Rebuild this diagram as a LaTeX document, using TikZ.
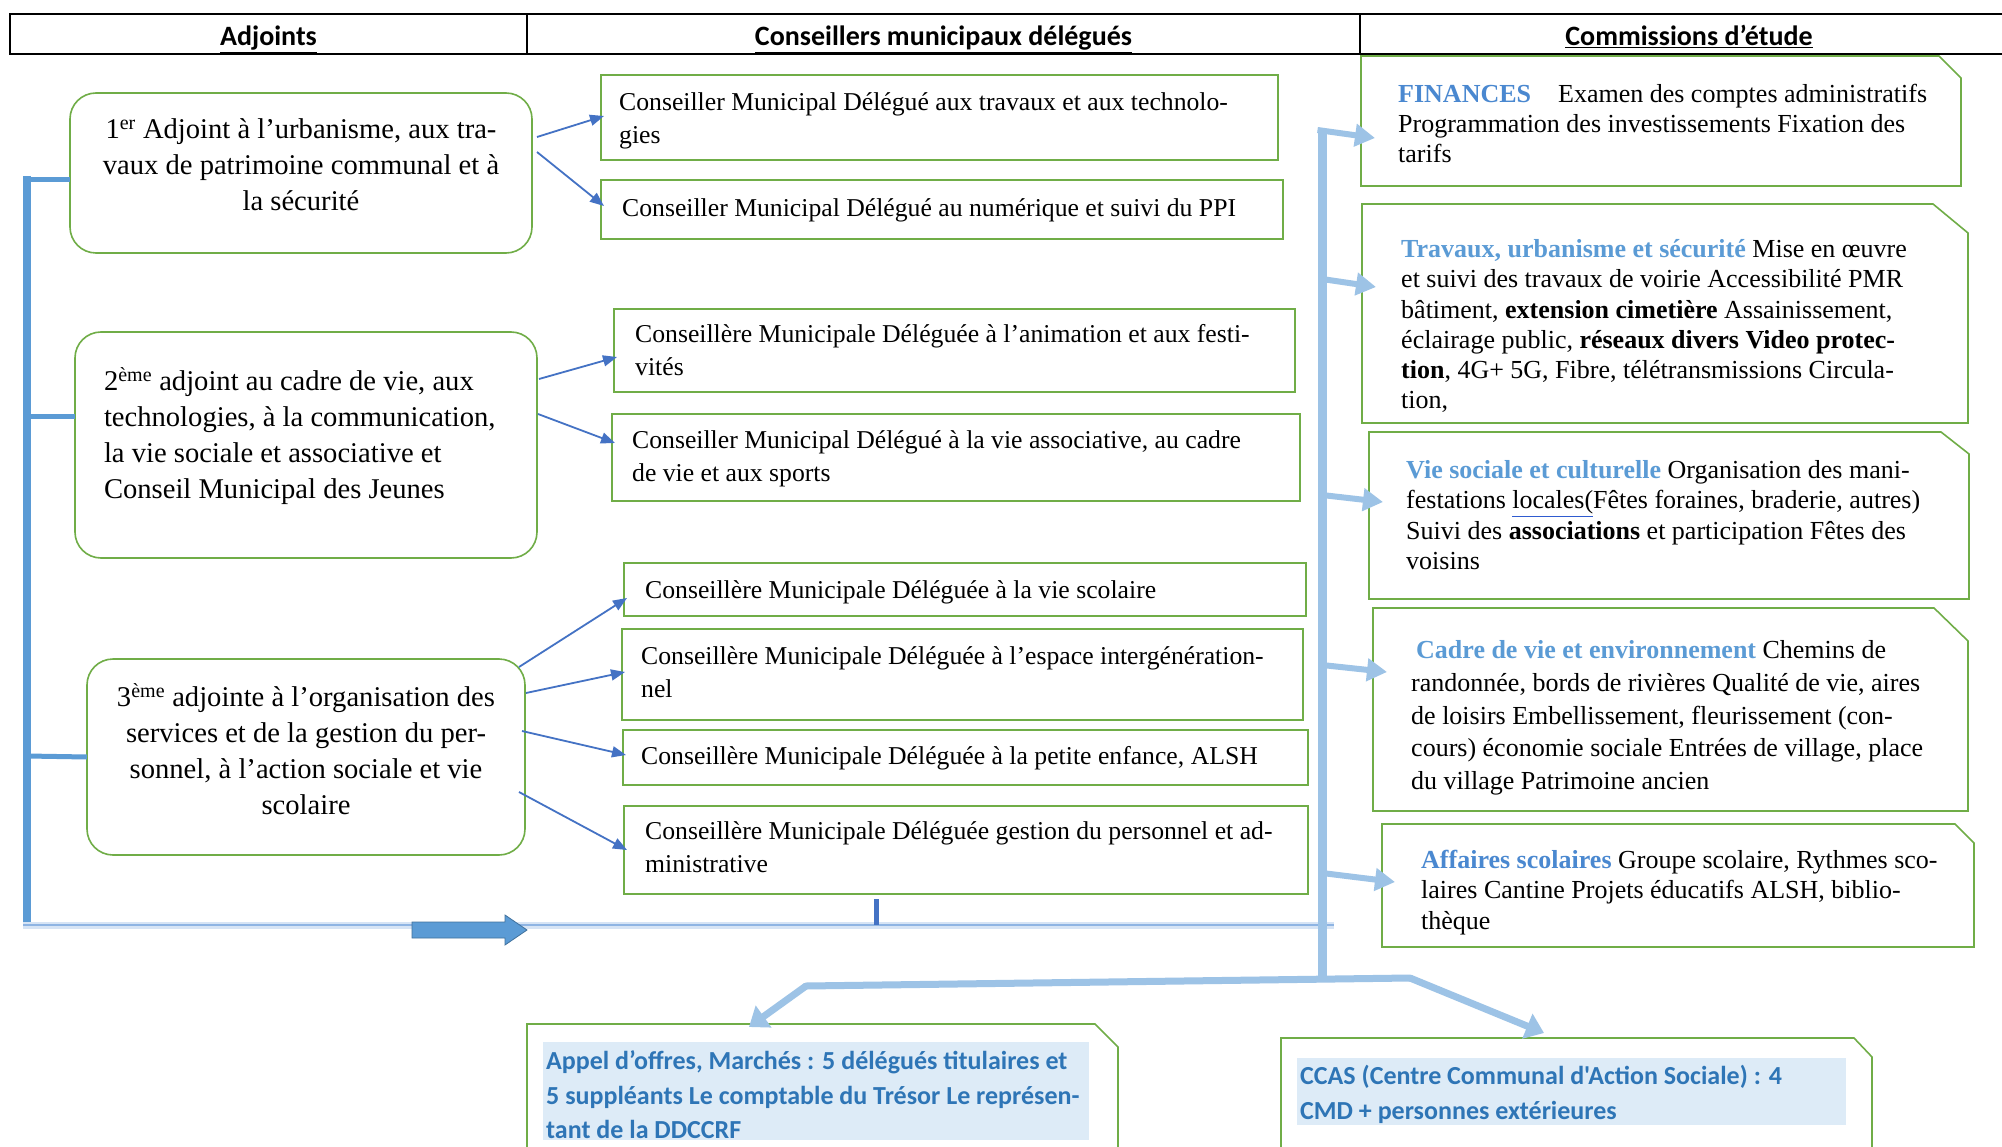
\documentclass[tikz,border=0pt]{standalone}
\usepackage{fontspec}
\setmainfont{Liberation Serif}
\newfontfamily\calib{Carlito}
\usetikzlibrary{arrows.meta}
\definecolor{grn}{HTML}{70AD47}
\definecolor{dblue}{HTML}{4472C4}
\definecolor{mblue}{HTML}{5B9BD5}
\definecolor{lblue}{HTML}{9DC3E6}
\definecolor{hblue}{HTML}{4A88D0}
\definecolor{hlblue}{HTML}{5B9BD5}
\definecolor{tblue}{HTML}{2E75B6}
\definecolor{fblue}{HTML}{DDEBF7}
\definecolor{ulblue}{HTML}{2F5BD0}
\definecolor{glow}{HTML}{D6E4F5}
\definecolor{bline}{HTML}{8EB4E3}
\definecolor{adark}{HTML}{41719C}
\newcommand{\fl}{\rule{0pt}{0.9em}}
\newcommand{\hdA}[1]{\textbf{\textcolor{hblue}{#1}}}
\newcommand{\hdB}[1]{\textbf{\textcolor{hlblue}{#1}}}
\newcommand{\snipbox}[3]{\draw[snipline] (#1.north west) -- ([xshift=-#2pt]#1.north east) -- ([yshift=-#3pt]#1.north east) -- (#1.south east) -- (#1.south west) -- cycle;}
\begin{document}
\begin{tikzpicture}[x=1pt,y=-1pt,
  geo/.style={inner sep=0pt, outer sep=0pt, anchor=north west},
  mbox/.style={geo, draw=grn, line width=1.6pt},
  abox/.style={geo, draw=grn, line width=1.6pt, rounded corners=26pt},
  snipline/.style={draw=grn, line width=1.6pt, line join=miter},
  hcell/.style={geo, draw=black, line width=1.8pt, text height=29pt, text depth=5pt, font=\calib\bfseries\fontsize{28}{34}\selectfont},
  ltxt/.style={inner sep=0pt, outer sep=0pt, font=\fontsize{28.6}{36}\selectfont},
  mtxt/.style={inner sep=0pt, anchor=north west, align=left, font=\fontsize{25.7}{33}\selectfont},
  rtxt/.style={inner sep=0pt, anchor=north west, align=left, font=\fontsize{26}{30.2}\selectfont},
  btxt/.style={inner sep=0pt, anchor=north west, align=left, text=tblue, font=\calib\bfseries\fontsize{26}{34.5}\selectfont},
  darr/.style={draw=dblue, line width=1.8pt, -{Triangle[length=14pt,width=11pt]}},
  lbranch/.style={draw=mblue, line width=5pt},
  rbranch/.style={draw=lblue, line width=6pt, -{Triangle[length=20pt,width=22pt]}},
  sbranch/.style={draw=lblue, line width=7pt, -{Triangle[length=18pt,width=26pt]}},
]
\useasboundingbox (0,0) rectangle (2002,1147);
\clip (0,0) rectangle (2002,1147);
\fill[white] (0,0) rectangle (2002,1147);

% header
\node[hcell, minimum width=517, minimum height=40] (H1) at (10,14) {\underline{Adjoints}};
\node[hcell, minimum width=833, minimum height=40] (H2) at (527,14) {\underline{Conseillers municipaux délégués}};
\node[hcell, minimum width=658, minimum height=40] (H3) at (1360,14) {\underline{Commissions d’étude}};

% adjoints
\node[abox, minimum width=462, minimum height=160] (A1) at (70,93) {};
\node[abox, minimum width=462, minimum height=226] (A2) at (75,332) {};
\node[abox, minimum width=438, minimum height=196] (A3) at (87,659) {};
\node[ltxt, anchor=north, align=center] (A1t) at (301,113) {\fl 1\textsuperscript{er} Adjoint à l’urbanisme, aux tra-\\vaux de patrimoine communal et à\\la sécurité};
\node[ltxt, anchor=north west, align=left] (A2t) at (104,365) {\fl 2\textsuperscript{ème} adjoint au cadre de vie, aux\\technologies, à la communication,\\la vie sociale et associative et\\Conseil Municipal des Jeunes};
\node[ltxt, anchor=north, align=center] (A3t) at (306,681) {\fl 3\textsuperscript{ème} adjointe à l’organisation des\\services et de la gestion du per-\\sonnel, à l’action sociale et vie\\scolaire};

% conseillers
\node[mbox, minimum width=677, minimum height=85] (M1) at (601,75) {};
\node[mbox, minimum width=682, minimum height=59] (M2) at (601,180) {};
\node[mbox, minimum width=681, minimum height=83] (M3) at (614,309) {};
\node[mbox, minimum width=688, minimum height=87] (M4) at (612,414) {};
\node[mbox, minimum width=682, minimum height=53] (M5) at (624,563) {};
\node[mbox, minimum width=681, minimum height=91] (M6) at (622,629) {};
\node[mbox, minimum width=685, minimum height=55] (M7) at (623,730) {};
\node[mbox, minimum width=684, minimum height=88] (M8) at (624,806) {};
\node[mtxt] (M1t) at (619,87) {\fl Conseiller Municipal Délégué aux travaux et aux technolo-\\gies};
\node[mtxt] (M2t) at (622,193) {\fl Conseiller Municipal Délégué au numérique et suivi du PPI};
\node[mtxt] (M3t) at (635,319) {\fl Conseillère Municipale Déléguée à l’animation et aux festi-\\vités};
\node[mtxt] (M4t) at (632,425) {\fl Conseiller Municipal Délégué à la vie associative, au cadre\\de vie et aux sports};
\node[mtxt] (M5t) at (645,575) {\fl Conseillère Municipale Déléguée à la vie scolaire};
\node[mtxt] (M6t) at (641,641) {\fl Conseillère Municipale Déléguée à l’espace intergénération-\\nel};
\node[mtxt] (M7t) at (641,741) {\fl Conseillère Municipale Déléguée à la petite enfance, ALSH};
\node[mtxt] (M8t) at (645,816) {\fl Conseillère Municipale Déléguée gestion du personnel et ad-\\ministrative};

% commissions
\node[geo, minimum width=600, minimum height=130] (C1) at (1361,56) {};
\node[geo, minimum width=606, minimum height=219] (C2) at (1362,204) {};
\node[geo, minimum width=600, minimum height=167] (C3) at (1369,432) {};
\node[geo, minimum width=595, minimum height=203] (C4) at (1373,608) {};
\node[geo, minimum width=592, minimum height=123] (C5) at (1382,824) {};
\snipbox{C1}{22}{22}
\snipbox{C2}{35}{29}
\snipbox{C3}{28}{22}
\snipbox{C4}{34}{33}
\snipbox{C5}{19}{19}
\node[rtxt] (C1t) at (1398,79) {\fl\hdA{FINANCES}\hspace{27pt}Examen des comptes administratifs\\Programmation des investissements Fixation des\\tarifs};
\node[rtxt] (C2t) at (1401,234) {\fl\hdB{Travaux, urbanisme et sécurité} Mise en œuvre\\et suivi des travaux de voirie Accessibilité PMR\\bâtiment, \textbf{extension cimetière} Assainissement,\\éclairage public, \textbf{réseaux divers Video protec-}\\\textbf{tion}, 4G+ 5G, Fibre, télétransmissions Circula-\\tion,};
\node[rtxt] (C3t) at (1406,455) {\fl\hdB{Vie sociale et culturelle} Organisation des mani-\\festations \textcolor{ulblue}{\underline{\textcolor{black}{locales(}}}Fêtes foraines, braderie, autres)\\Suivi des \textbf{associations} et participation Fêtes des\\voisins};
\node[rtxt, font=\fontsize{26}{32.7}\selectfont] (C4t) at (1411,635) {\fl\hspace{5pt}\hdB{Cadre de vie et environnement} Chemins de\\randonnée, bords de rivières Qualité de vie, aires\\de loisirs Embellissement, fleurissement (con-\\cours) économie sociale Entrées de village, place\\du village Patrimoine ancien};
\node[rtxt] (C5t) at (1421,845) {\fl\hdA{Affaires scolaires} Groupe scolaire, Rythmes sco-\\laires Cantine Projets éducatifs ALSH, biblio-\\thèque};

% bottom boxes
\node[geo, minimum width=591, minimum height=160] (B1) at (527,1024) {};
\node[geo, minimum width=591, minimum height=150] (B2) at (1281,1038) {};
\snipbox{B1}{23}{23}
\snipbox{B2}{18}{19}
\fill[fblue] (543,1042) rectangle (1089,1140);
\fill[fblue] (1297,1058) rectangle (1846,1125);
\node[btxt] (B1t) at (546,1046) {\fl Appel d’offres, Marchés : 5 délégués titulaires et\\5 suppléants Le comptable du Trésor Le représen-\\tant de la DDCCRF};
\node[btxt] (B2t) at (1300,1061) {\fl CCAS (Centre Communal d'Action Sociale) : 4\\CMD + personnes extérieures};

% thin arrows adjoints -> conseillers
\draw[darr] ([shift={(5,44)}]A1.north east) -- ([shift={(3,41)}]M1.north west);
\draw[darr] ([shift={(5,59)}]A1.north east) -- ([shift={(3,26)}]M2.north west);
\draw[darr] ([shift={(2,47)}]A2.north east) -- ([shift={(3,48)}]M3.north west);
\draw[darr] ([shift={(1,82)}]A2.north east) -- ([shift={(3,29)}]M4.north west);
\draw[darr] ([shift={(-6,8)}]A3.north east) -- ([shift={(3,35)}]M5.north west);
\draw[darr] ([shift={(1,34)}]A3.north east) -- ([shift={(3,43)}]M6.north west);
\draw[darr] ([shift={(-3,72)}]A3.north east) -- ([shift={(3,25)}]M7.north west);
\draw[darr] ([shift={(-6,133)}]A3.north east) -- ([shift={(3,44)}]M8.north west);

% left blue bus
\coordinate (Ltop) at (27,176);
\coordinate (Lbot) at (27,923);
\draw[mblue, line width=8pt] (Ltop) -- (Lbot);
\draw[lbranch] (Ltop |- 0,180) -- ([shift={(0,7)}]A1.west);
\draw[lbranch] (Ltop |- 0,416) -- ([shift={(0,-29)}]A2.west);
\draw[lbranch] (Ltop |- 0,756) -- (A3.west);

% bottom thin line with block arrow and tick
\coordinate (Bl) at (23,925);
\coordinate (Br) at (1334,925);
\draw[glow, line width=7pt] (Bl) -- (Br);
\draw[bline, line width=2.4pt] (Bl) -- (Br);
\fill[mblue, draw=adark, line width=0.8pt] (412,922) -- (505,922) -- (505,915) -- (527,930) -- (505,945) -- (505,938) -- (412,938) -- cycle;
\coordinate (Tk) at (876,899);
\draw[dblue, line width=5pt] (Tk) -- (Tk |- Br);

% right blue bus
\coordinate (Rtop) at (1322,130);
\coordinate (Rbot) at (1322,981);
\draw[lblue, line width=9pt] (Rbot) -- (Rtop);
\draw[rbranch] ([shift={(-4.5,0)}]Rtop) -- ([shift={(14,82)}]C1.north west);
\draw[rbranch] (Rtop |- 0,279) -- ([shift={(14,83)}]C2.north west);
\draw[rbranch] (Rtop |- 0,495) -- ([shift={(14,70)}]C3.north west);
\draw[rbranch] (Rtop |- 0,665) -- ([shift={(14,64)}]C4.north west);
\draw[rbranch] (Rtop |- 0,873) -- ([shift={(13,58)}]C5.north west);

% bottom split
\coordinate (Sl) at (806,986);
\coordinate (Sr) at (1410,978);
\draw[lblue, line width=7pt, line cap=round] (Sl) -- (Sr);
\draw[sbranch] (Sl) -- ([shift={(222,3)}]B1.north west);
\draw[sbranch] (Sr) -- ([shift={(263,-5)}]B2.north west);
\end{tikzpicture}
\end{document}
